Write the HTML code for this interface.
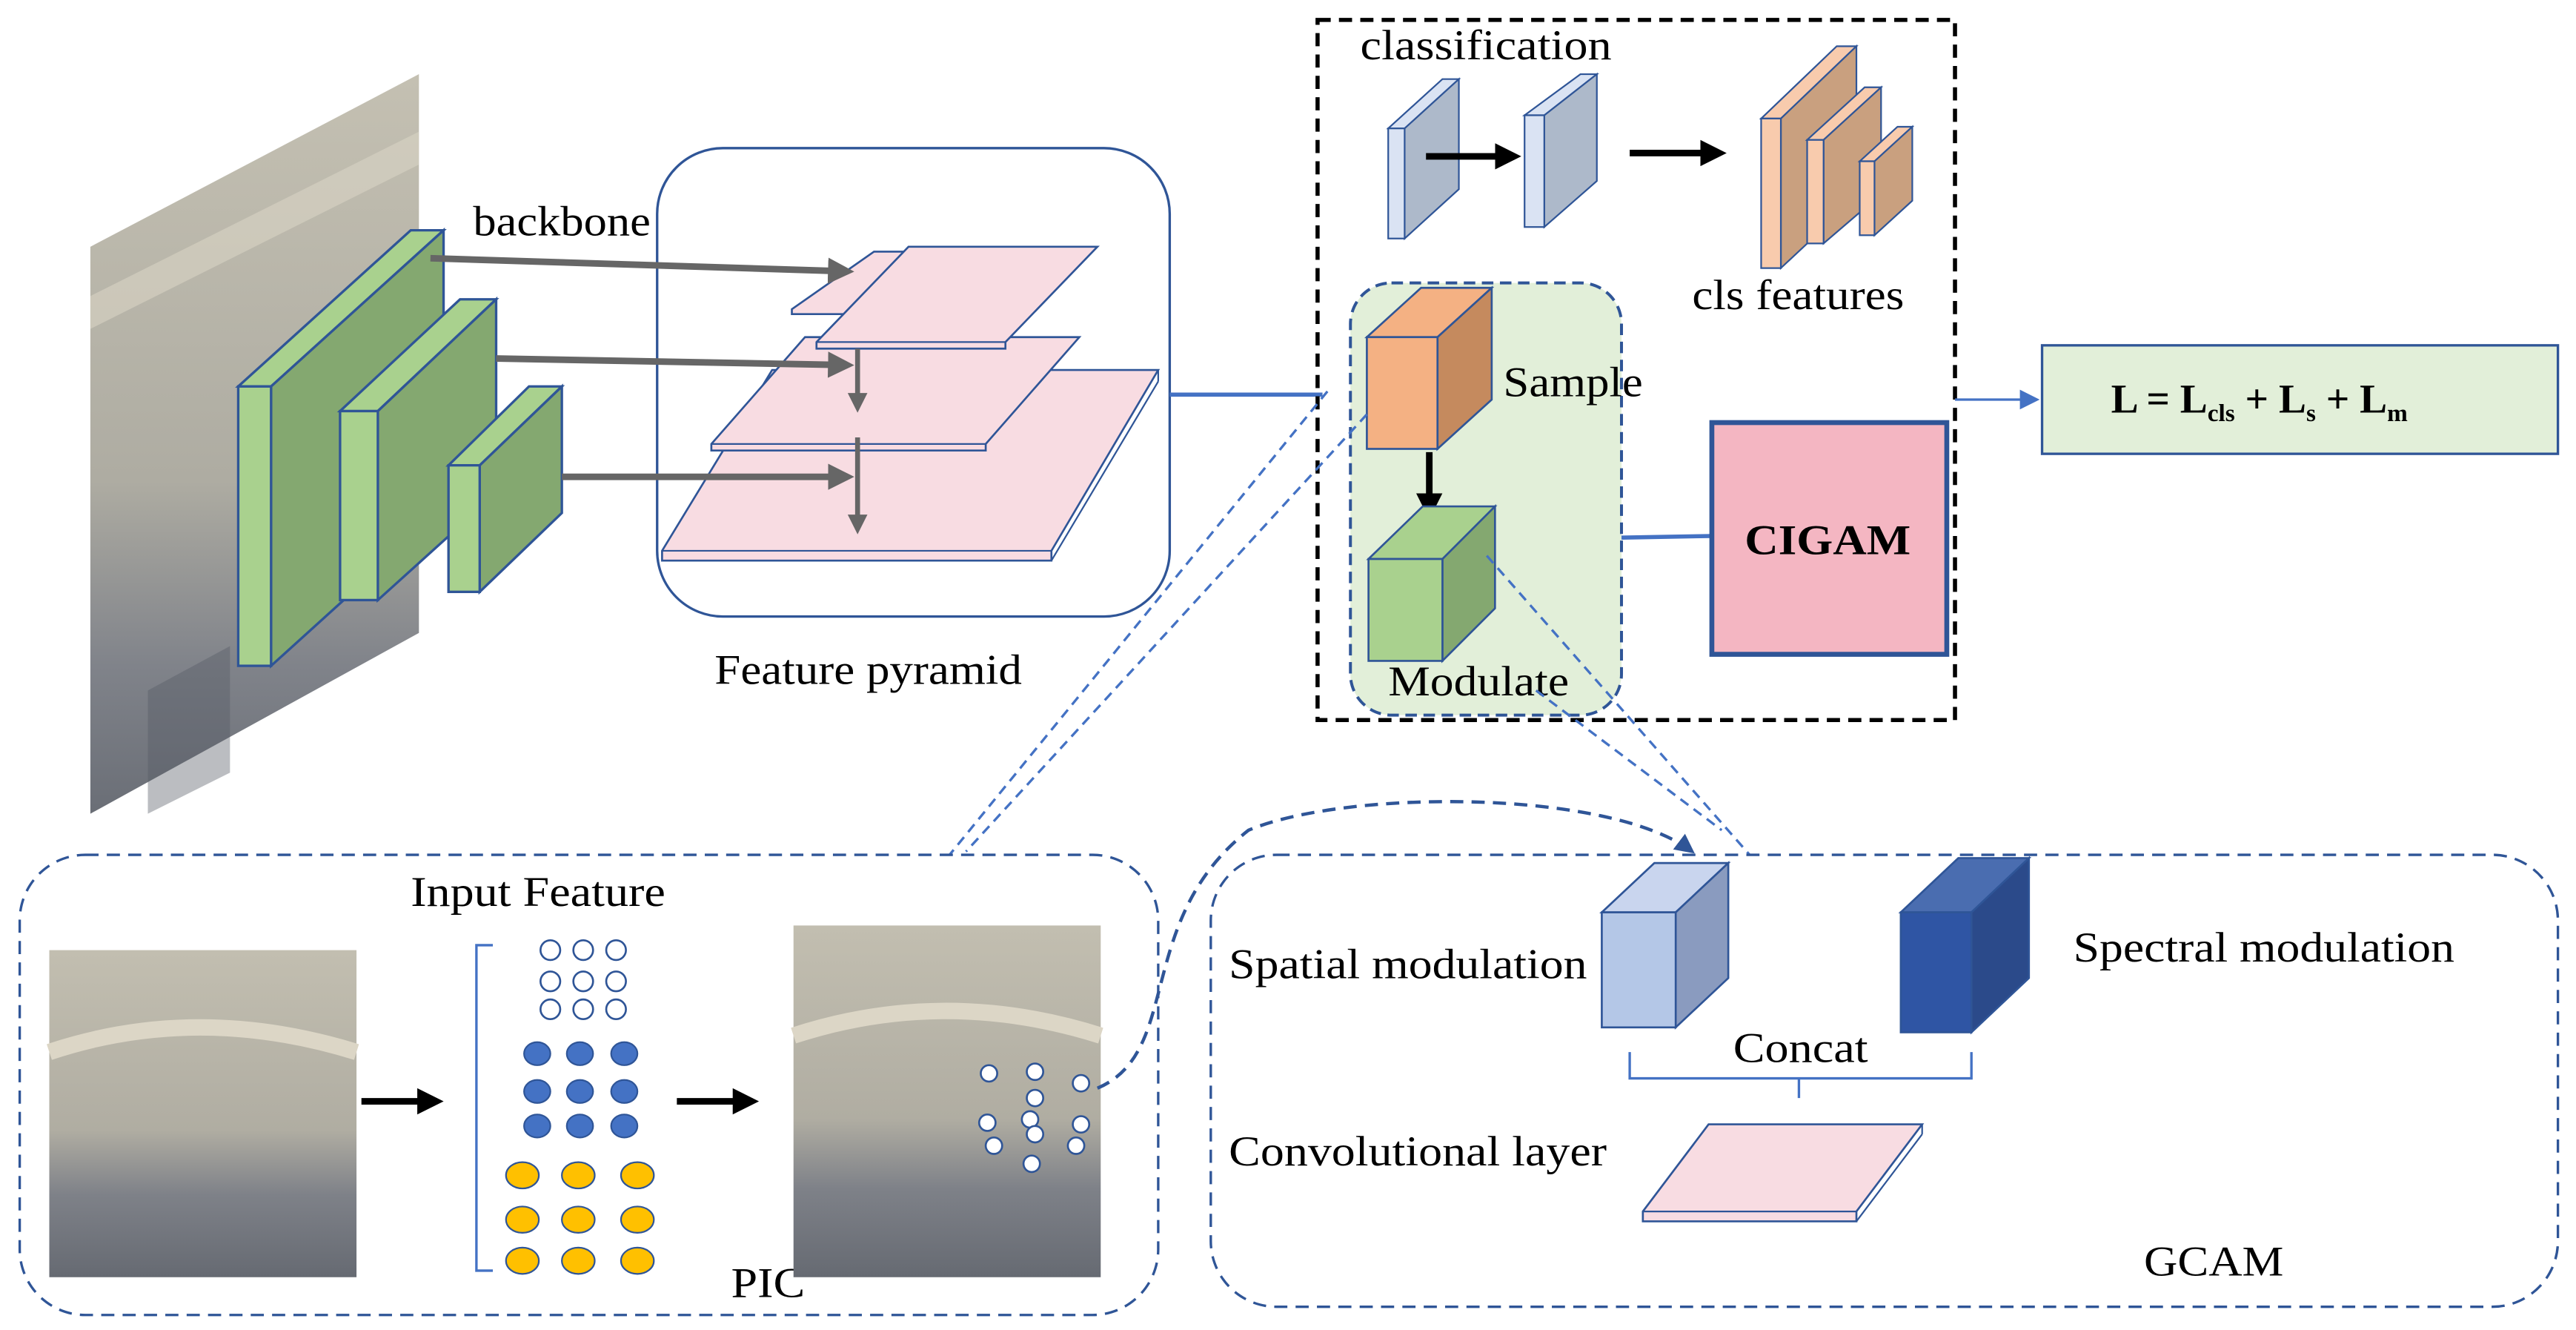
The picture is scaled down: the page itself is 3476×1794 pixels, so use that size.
<!DOCTYPE html>
<html><head><meta charset="utf-8"><style>
html,body{margin:0;padding:0;background:#fff;}
svg{display:block;}
text{font-family:"Liberation Serif",serif;fill:#000;}
</style></head><body>
<svg width="3476" height="1794" viewBox="0 0 1568 809" xmlns="http://www.w3.org/2000/svg">
<defs>
<marker id="ag" markerWidth="4" markerHeight="4" refX="3" refY="2" orient="auto"><path d="M0,0 L4,2 L0,4z" fill="#666"/></marker>
<marker id="ak" markerWidth="4" markerHeight="4" refX="3" refY="2" orient="auto"><path d="M0,0 L4,2 L0,4z" fill="#000"/></marker>
<marker id="ab" markerWidth="8" markerHeight="8" refX="7" refY="4" orient="auto"><path d="M0,0 L8,4 L0,8z" fill="#4472c4"/></marker>
<marker id="ad" markerWidth="6" markerHeight="6" refX="5" refY="3" orient="auto"><path d="M0,0 L6,3 L0,6z" fill="#2f5597"/></marker>
<linearGradient id="sat" x1="0" y1="0" x2="0" y2="1"><stop offset="0" stop-color="#c4c0b2"/><stop offset="0.55" stop-color="#aeaca2"/><stop offset="0.8" stop-color="#80838a"/><stop offset="1" stop-color="#6a6e76"/></linearGradient>
<linearGradient id="sat2" x1="0" y1="0" x2="0" y2="1"><stop offset="0" stop-color="#c2beb0"/><stop offset="0.55" stop-color="#b0ada2"/><stop offset="0.75" stop-color="#7e8188"/><stop offset="1" stop-color="#666a72"/></linearGradient>
</defs>

<polygon points="55,150 255,45 255,385 55,495" fill="url(#sat)"/>
<polygon points="55,180 255,80 255,100 55,200" fill="#d8d3c4" opacity="0.6"/>
<polygon points="90,420 140,393 140,470 90,495" fill="#555a63" opacity="0.4"/>

<polygon points="145,235 250,140 270,140 165,235" fill="#a9d18e" stroke="#2f5597" stroke-width="1.5"/>
<polygon points="165,235 270,140 270,310 165,405" fill="#84a870" stroke="#2f5597" stroke-width="1.5"/>
<rect x="145" y="235" width="20" height="170" fill="#a9d18e" stroke="#2f5597" stroke-width="1.5"/>
<polygon points="207,250 280,182 302,182 230,250" fill="#a9d18e" stroke="#2f5597" stroke-width="1.5"/>
<polygon points="230,250 302,182 302,300 230,365" fill="#84a870" stroke="#2f5597" stroke-width="1.5"/>
<rect x="207" y="250" width="23" height="115" fill="#a9d18e" stroke="#2f5597" stroke-width="1.5"/>
<polygon points="273,283 322,235 342,235 292,283" fill="#a9d18e" stroke="#2f5597" stroke-width="1.5"/>
<polygon points="292,283 342,235 342,312 292,360" fill="#84a870" stroke="#2f5597" stroke-width="1.5"/>
<rect x="273" y="283" width="19" height="77" fill="#a9d18e" stroke="#2f5597" stroke-width="1.5"/>

<text x="288" y="143" font-size="26" textLength="108" lengthAdjust="spacingAndGlyphs">backbone</text>

<rect x="400" y="90" width="312" height="285" rx="40" fill="none" stroke="#2f5597" stroke-width="1.5"/>
<text x="435" y="416" font-size="26" textLength="187" lengthAdjust="spacingAndGlyphs">Feature pyramid</text>
<polygon points="403,335 470,225 705,225 640,335 640,341 403,341" fill="#f8dce2" stroke="#2f5597" stroke-width="1.2"/>
<line x1="403" y1="335" x2="640" y2="335" stroke="#2f5597"/><line x1="705" y1="225" x2="705" y2="232" stroke="#2f5597"/><line x1="640" y1="341" x2="705" y2="232" stroke="#2f5597"/>
<polygon points="433,270 490,205 657,205 600,270 600,274 433,274" fill="#f8dce2" stroke="#2f5597" stroke-width="1.2"/>
<line x1="433" y1="270" x2="600" y2="270" stroke="#2f5597"/>
<polygon points="482,188 532,153 648,153 598,188 598,191 482,191" fill="#f8dce2" stroke="#2f5597" stroke-width="1.2"/>
<polygon points="497,208 553,150 668,150 612,208 612,212 497,212" fill="#f8dce2" stroke="#2f5597" stroke-width="1.2"/>
<line x1="497" y1="208" x2="612" y2="208" stroke="#2f5597"/>

<line x1="262" y1="157" x2="516" y2="165" stroke="#666" stroke-width="4" marker-end="url(#ag)"/>
<line x1="302" y1="218" x2="516" y2="222" stroke="#666" stroke-width="4" marker-end="url(#ag)"/>
<line x1="342" y1="290" x2="516" y2="290" stroke="#666" stroke-width="4" marker-end="url(#ag)"/>
<line x1="522" y1="212" x2="522" y2="248" stroke="#666" stroke-width="3" marker-end="url(#ag)"/>
<line x1="522" y1="266" x2="522" y2="322" stroke="#666" stroke-width="3" marker-end="url(#ag)"/>

<line x1="712" y1="240" x2="805" y2="240" stroke="#4472c4" stroke-width="2.5"/>

<rect x="802" y="12" width="388" height="426" fill="none" stroke="#000" stroke-width="2.5" stroke-dasharray="8,5"/>
<text x="828" y="36" font-size="26" textLength="153" lengthAdjust="spacingAndGlyphs">classification</text>
<polygon points="845,78 878,48 888,48 855,78" fill="#dae3f3" stroke="#2f5597"/>
<polygon points="855,78 888,48 888,115 855,145" fill="#adb9ca" stroke="#2f5597"/>
<rect x="845" y="78" width="10" height="67" fill="#dae3f3" stroke="#2f5597"/>
<polygon points="928,70 962,45 972,45 940,70" fill="#dae3f3" stroke="#2f5597"/>
<polygon points="940,70 972,45 972,110 940,138" fill="#adb9ca" stroke="#2f5597"/>
<rect x="928" y="70" width="12" height="68" fill="#dae3f3" stroke="#2f5597"/>
<line x1="868" y1="95" x2="922" y2="95" stroke="#000" stroke-width="4" marker-end="url(#ak)"/>
<line x1="992" y1="93" x2="1047" y2="93" stroke="#000" stroke-width="4" marker-end="url(#ak)"/>
<polygon points="1072,72 1118,28 1130,28 1084,72" fill="#f8cbad" stroke="#2f5597"/>
<polygon points="1084,72 1130,28 1130,120 1084,163" fill="#c9a07f" stroke="#2f5597"/>
<rect x="1072" y="72" width="12" height="91" fill="#f8cbad" stroke="#2f5597"/>
<polygon points="1100,85 1135,53 1145,53 1110,85" fill="#f8cbad" stroke="#2f5597"/>
<polygon points="1110,85 1145,53 1145,118 1110,148" fill="#c9a07f" stroke="#2f5597"/>
<rect x="1100" y="85" width="10" height="63" fill="#f8cbad" stroke="#2f5597"/>
<polygon points="1132,98 1155,77 1164,77 1141,98" fill="#f8cbad" stroke="#2f5597"/>
<polygon points="1141,98 1164,77 1164,122 1141,143" fill="#c9a07f" stroke="#2f5597"/>
<rect x="1132" y="98" width="9" height="45" fill="#f8cbad" stroke="#2f5597"/>
<text x="1030" y="188" font-size="26" textLength="129" lengthAdjust="spacingAndGlyphs">cls features</text>

<rect x="822" y="172" width="165" height="263" rx="25" fill="#e2efd9" stroke="#2f5597" stroke-width="1.8" stroke-dasharray="7,4"/>
<polygon points="832,205 865,175 908,175 875,205" fill="#f4b183" stroke="#2f5597" stroke-width="1.2"/>
<polygon points="875,205 908,175 908,243 875,273" fill="#c58a5e" stroke="#2f5597" stroke-width="1.2"/>
<rect x="832" y="205" width="43" height="68" fill="#f4b183" stroke="#2f5597" stroke-width="1.2"/>
<text x="915" y="241" font-size="26" textLength="85" lengthAdjust="spacingAndGlyphs">Sample</text>
<line x1="870" y1="275" x2="870" y2="312" stroke="#000" stroke-width="4" marker-end="url(#ak)"/>
<polygon points="833,340 866,308 910,308 878,340" fill="#a9d18e" stroke="#2f5597" stroke-width="1.2"/>
<polygon points="878,340 910,308 910,370 878,402" fill="#84a870" stroke="#2f5597" stroke-width="1.2"/>
<rect x="833" y="340" width="45" height="62" fill="#a9d18e" stroke="#2f5597" stroke-width="1.2"/>
<text x="845" y="423" font-size="26" textLength="110" lengthAdjust="spacingAndGlyphs">Modulate</text>

<line x1="987" y1="327" x2="1042" y2="326" stroke="#4472c4" stroke-width="2.5"/>
<rect x="1042" y="257" width="143" height="141" fill="#f4b6c2" stroke="#2f5597" stroke-width="3"/>
<text x="1062" y="337" font-size="26" font-weight="bold" textLength="101" lengthAdjust="spacingAndGlyphs">CIGAM</text>

<line x1="1190" y1="243" x2="1240" y2="243" stroke="#4472c4" stroke-width="1.5" marker-end="url(#ab)"/>
<rect x="1243" y="210" width="314" height="66" fill="#e2efd9" stroke="#2f5597" stroke-width="1.5"/>
<text x="1285" y="251" font-size="25" font-weight="bold">L = L<tspan font-size="15" dy="5">cls</tspan><tspan dy="-5"> +  L</tspan><tspan font-size="15" dy="5">s</tspan><tspan dy="-5"> +  L</tspan><tspan font-size="15" dy="5">m</tspan></text>

<line x1="808" y1="238" x2="578" y2="520" stroke="#4472c4" stroke-width="1.5" stroke-dasharray="6,4"/>
<line x1="832" y1="252" x2="588" y2="518" stroke="#4472c4" stroke-width="1.5" stroke-dasharray="6,4"/>
<line x1="905" y1="338" x2="1065" y2="520" stroke="#4472c4" stroke-width="1.5" stroke-dasharray="6,4"/>
<line x1="935" y1="420" x2="1048" y2="505" stroke="#4472c4" stroke-width="1.5" stroke-dasharray="6,4"/>

<rect x="12" y="520" width="693" height="280" rx="40" fill="none" stroke="#2f5597" stroke-width="1.5" stroke-dasharray="8,5"/>
<text x="250" y="551" font-size="26" textLength="155" lengthAdjust="spacingAndGlyphs">Input Feature</text>
<text x="445" y="789" font-size="26" textLength="45" lengthAdjust="spacingAndGlyphs">PIC</text>
<rect x="30" y="578" width="187" height="199" fill="url(#sat2)"/>
<path d="M30,640 Q120,610 217,640" stroke="#dcd6c6" stroke-width="10" fill="none"/>
<line x1="220" y1="670" x2="266" y2="670" stroke="#000" stroke-width="4" marker-end="url(#ak)"/>
<path d="M300,575 L290,575 L290,773 L300,773" fill="none" stroke="#4472c4" stroke-width="1.5"/>
<g fill="#fff" stroke="#2f5597" stroke-width="1.2">
<circle cx="335" cy="578" r="6"/><circle cx="355" cy="578" r="6"/><circle cx="375" cy="578" r="6"/>
<circle cx="335" cy="597" r="6"/><circle cx="355" cy="597" r="6"/><circle cx="375" cy="597" r="6"/>
<circle cx="335" cy="614" r="6"/><circle cx="355" cy="614" r="6"/><circle cx="375" cy="614" r="6"/>
</g>
<g fill="#4472c4" stroke="#2f5597">
<ellipse cx="327" cy="641" rx="8" ry="7"/><ellipse cx="353" cy="641" rx="8" ry="7"/><ellipse cx="380" cy="641" rx="8" ry="7"/>
<ellipse cx="327" cy="664" rx="8" ry="7"/><ellipse cx="353" cy="664" rx="8" ry="7"/><ellipse cx="380" cy="664" rx="8" ry="7"/>
<ellipse cx="327" cy="685" rx="8" ry="7"/><ellipse cx="353" cy="685" rx="8" ry="7"/><ellipse cx="380" cy="685" rx="8" ry="7"/>
</g>
<g fill="#ffc000" stroke="#2f5597">
<ellipse cx="318" cy="715" rx="10" ry="8"/><ellipse cx="352" cy="715" rx="10" ry="8"/><ellipse cx="388" cy="715" rx="10" ry="8"/>
<ellipse cx="318" cy="742" rx="10" ry="8"/><ellipse cx="352" cy="742" rx="10" ry="8"/><ellipse cx="388" cy="742" rx="10" ry="8"/>
<ellipse cx="318" cy="767" rx="10" ry="8"/><ellipse cx="352" cy="767" rx="10" ry="8"/><ellipse cx="388" cy="767" rx="10" ry="8"/>
</g>
<line x1="412" y1="670" x2="458" y2="670" stroke="#000" stroke-width="4" marker-end="url(#ak)"/>
<rect x="483" y="563" width="187" height="214" fill="url(#sat2)"/>
<path d="M483,630 Q575,600 670,630" stroke="#dcd6c6" stroke-width="10" fill="none"/>
<g fill="#fff" stroke="#2f5597" stroke-width="1.2">
<circle cx="602" cy="653" r="5"/><circle cx="630" cy="652" r="5"/><circle cx="658" cy="659" r="5"/>
<circle cx="601" cy="683" r="5"/><circle cx="627" cy="681" r="5"/><circle cx="658" cy="684" r="5"/>
<circle cx="605" cy="697" r="5"/><circle cx="630" cy="690" r="5"/><circle cx="655" cy="697" r="5"/>
<circle cx="628" cy="708" r="5"/><circle cx="630" cy="668" r="5"/>
</g>
<path d="M668,662 C720,640 690,560 760,505 C820,480 980,480 1030,518" fill="none" stroke="#2f5597" stroke-width="2" stroke-dasharray="8,5" marker-end="url(#ad)"/>

<rect x="737" y="520" width="820" height="275" rx="40" fill="none" stroke="#2f5597" stroke-width="1.5" stroke-dasharray="8,5"/>
<text x="748" y="595" font-size="26" textLength="218" lengthAdjust="spacingAndGlyphs">Spatial modulation</text>
<text x="1262" y="585" font-size="26" textLength="232" lengthAdjust="spacingAndGlyphs">Spectral modulation</text>
<text x="1055" y="646" font-size="26" textLength="82" lengthAdjust="spacingAndGlyphs">Concat</text>
<text x="748" y="709" font-size="26" textLength="230" lengthAdjust="spacingAndGlyphs">Convolutional layer</text>
<text x="1305" y="776" font-size="26" textLength="85" lengthAdjust="spacingAndGlyphs">GCAM</text>
<polygon points="975,555 1007,525 1052,525 1020,555" fill="#c9d5ee" stroke="#2f5597" stroke-width="1.2"/>
<polygon points="1020,555 1052,525 1052,595 1020,625" fill="#8a9bbf" stroke="#2f5597" stroke-width="1.2"/>
<rect x="975" y="555" width="45" height="70" fill="#b4c7e7" stroke="#2f5597" stroke-width="1.2"/>
<polygon points="1157,555 1192,522 1235,522 1200,555" fill="#4a6db0" stroke="#2f5597" stroke-width="1.2"/>
<polygon points="1200,555 1235,522 1235,595 1200,628" fill="#2b4a8a" stroke="#2f5597" stroke-width="1.2"/>
<rect x="1157" y="555" width="43" height="73" fill="#2f55a4" stroke="#2f5597" stroke-width="1.2"/>
<path d="M992,640 L992,656 L1200,656 L1200,640 M1095,656 L1095,668" fill="none" stroke="#4472c4" stroke-width="1.5"/>
<polygon points="1000,737 1040,684 1170,684 1130,737 1130,743 1000,743" fill="#f8dce2" stroke="#2f5597" stroke-width="1.2"/>
<line x1="1000" y1="737" x2="1130" y2="737" stroke="#2f5597"/><line x1="1130" y1="743" x2="1170" y2="690" stroke="#2f5597"/><line x1="1170" y1="684" x2="1170" y2="690" stroke="#2f5597"/>
</svg>
</body></html>
